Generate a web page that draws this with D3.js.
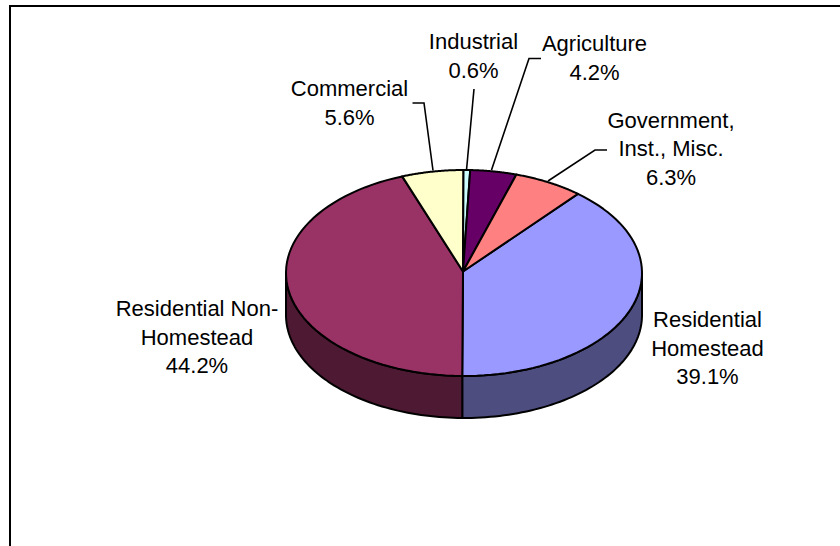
<!DOCTYPE html>
<html>
<head>
<meta charset="utf-8">
<script src="https://cdn.jsdelivr.net/npm/d3@7"></script>
<style>
  html, body { margin: 0; background: #fff; }
  svg { display: block; }
  text { font-family: "Liberation Sans", Arial, sans-serif; font-size: 22px; fill: #000; }
</style>
</head>
<body>
<svg id="chart" width="840" height="546"></svg>
<script>
// Property tax base by class, percent of total, clockwise from Residential Homestead
const categories = ["Residential Homestead", "Residential Non-Homestead", "Commercial", "Industrial", "Agriculture", "Government, Inst., Misc."];
const shares = [39.1, 44.2, 5.6, 0.6, 4.2, 6.3];
const topColors = ["#9999ff", "#993366", "#ffffcc", "#ccffff", "#660066", "#ff8080"];
const sideColors = ["#4d4d80", "#4d1933", "#80804d", "#668080", "#330033", "#804040"];
const labelLines = [["Residential", "Homestead", "39.1%"], ["Residential Non-", "Homestead", "44.2%"], ["Commercial", "5.6%"], ["Industrial", "0.6%"], ["Agriculture", "4.2%"], ["Government,", "Inst., Misc.", "6.3%"]];
const labelAnchors = [[707.5, 327], [197, 316], [349.5, 96], [473.5, 49], [594.5, 51], [671, 127.5]];
const leaders = [null, null, [[412.5, 103], [424, 103], [433, 170.5]], [[474, 89], [466.5, 170]], [[541, 58.5], [529, 58.5], [491.5, 170]], [[607, 150], [595, 150], [548, 181]]];

const svg = d3.select("#chart");

// Chart frame: top and left edges stay inside the window
svg.append("path")
  .attr("d", "M10,546V6H840")
  .attr("fill", "none").attr("stroke", "#000").attr("stroke-width", 2);

// Tilted disc geometry
const cx = 464, cy = 273, rx = 178, ry = 103, depth = 42;
const apex = [463, 271.5];
const rim = a => [cx + rx * Math.sin(a), cy - ry * Math.cos(a)];
const line = d3.line();
const toRad = d => d * Math.PI / 180;
const sweep = (a0, a1) => d3.range(0, 61).map(i => a0 + (a1 - a0) * i / 60);

const arcs = d3.pie().sort(null).value(d => d)
  .startAngle(toRad(39.8)).endAngle(toRad(399.8))(shares);

// Side wall: only the part of each slice facing the viewer
const frontStart = Math.PI / 2, frontEnd = 3 * Math.PI / 2;
arcs.forEach((d, i) => {
  const a0 = Math.max(d.startAngle, frontStart), a1 = Math.min(d.endAngle, frontEnd);
  if (a1 <= a0) return;
  const upper = sweep(a0, a1).map(rim);
  const lower = upper.slice().reverse().map(([x, y]) => [x, y + depth]);
  svg.append("path")
    .attr("d", line(upper.concat(lower)) + "Z")
    .attr("fill", sideColors[i]).attr("stroke", "#000")
    .attr("stroke-width", 2).attr("stroke-linejoin", "round");
});

// Top face
arcs.forEach((d, i) => {
  const pts = [apex].concat(sweep(d.startAngle, d.endAngle).map(rim));
  svg.append("path")
    .attr("d", line(pts) + "Z")
    .attr("fill", topColors[i]).attr("stroke", "#000")
    .attr("stroke-width", 2).attr("stroke-linejoin", "round");
});

// Leader lines
leaders.forEach(pts => {
  if (!pts) return;
  svg.append("path").attr("d", line(pts))
    .attr("fill", "none").attr("stroke", "#000").attr("stroke-width", 1.6);
});

// Category labels
labelLines.forEach((lines, i) => {
  const t = svg.append("text").attr("text-anchor", "middle")
    .attr("x", labelAnchors[i][0]).attr("y", labelAnchors[i][1]);
  lines.forEach((s, j) => {
    t.append("tspan").attr("x", labelAnchors[i][0]).attr("y", labelAnchors[i][1] + j * 28.7).text(s);
  });
});
</script>
</body>
</html>
